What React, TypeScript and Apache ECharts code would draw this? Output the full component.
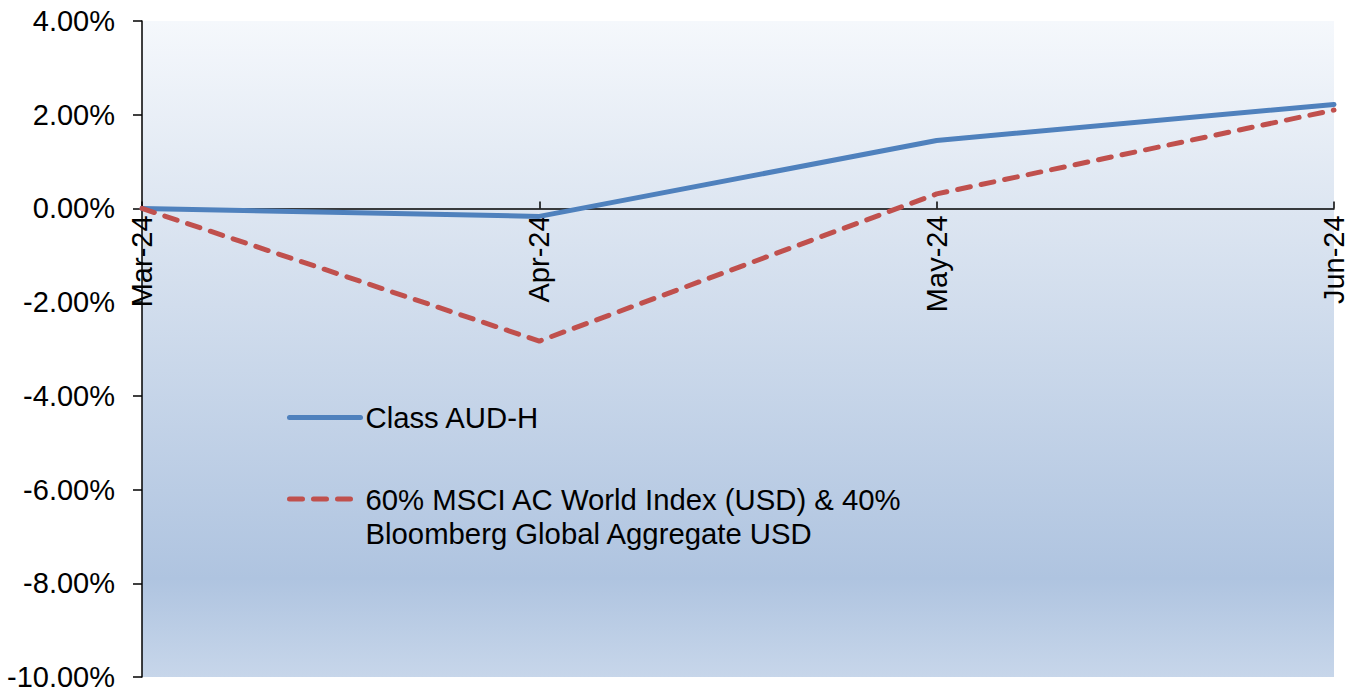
import React, { useEffect, useRef } from "react";
import * as echarts from "echarts";

const categories = ["Mar-24", "Apr-24", "May-24", "Jun-24"];
const seriesNames = [
  "Class AUD-H",
  "60% MSCI AC World Index (USD) & 40% Bloomberg Global Aggregate USD",
];
const classAudH = [0, -0.17, 1.45, 2.22];
const benchmark = [0, -2.83, 0.31, 2.1];
const yTicks = { min: -10, max: 4, interval: 2 };

const FONT = "'Liberation Sans', Arial, sans-serif";
const GRID = { left: 142, right: 27, top: 21, bottom: 16 };
const CHART_H = 693;

export default function App() {
  const ref = useRef<HTMLDivElement>(null);
  useEffect(() => {
    if (!ref.current) return;
    const chart = echarts.init(ref.current, null, { renderer: "svg" });
    const plotH = CHART_H - GRID.top - GRID.bottom;
    const zeroFromBottom = (plotH * (0 - yTicks.min)) / (yTicks.max - yTicks.min);
    chart.setOption({
      animation: false,
      textStyle: { fontFamily: FONT },
      grid: {
        ...GRID,
        outerBoundsMode: "none",
        containLabel: false,
        show: true,
        borderWidth: 0,
        backgroundColor: new echarts.graphic.LinearGradient(0, 0, 0, 1, [
          { offset: 0, color: "#f5f8fc" },
          { offset: 0.3, color: "#dce5f1" },
          { offset: 0.85, color: "#afc4e0" },
          { offset: 1, color: "#c7d6ea" },
        ]),
      },
      legend: [
        {
          orient: "vertical",
          left: 287,
          top: 403,
          padding: 0,
          itemWidth: 71,
          itemHeight: 1,
          data: [{ name: seriesNames[0] }],
          lineStyle: { width: 5, cap: "round" },
          itemStyle: { borderWidth: 0 },
          textStyle: { fontSize: 29.3, color: "#000", fontFamily: FONT },
        },
        {
          orient: "vertical",
          left: 287,
          top: 448,
          padding: 0,
          itemWidth: 71,
          itemHeight: 1,
          data: [{ name: seriesNames[1] }],
          lineStyle: { width: 5, cap: "round", type: [13, 11] },
          itemStyle: { borderWidth: 0 },
          formatter: (n: string) => "\n" + n.replace("& 40% ", "& 40%\n"),
          textStyle: { fontSize: 29.3, color: "#000", fontFamily: FONT, lineHeight: 34 },
        },
      ],
      xAxis: {
        type: "category",
        data: categories,
        boundaryGap: false,
        position: "bottom",
        offset: -zeroFromBottom,
        axisLine: { onZero: false, lineStyle: { color: "#000", width: 1.5 } },
        axisTick: { inside: true, length: 7, lineStyle: { color: "#000", width: 1.5 } },
        axisLabel: {
          rotate: 90,
          margin: 7,
          fontSize: 29,
          color: "#000",
          fontFamily: FONT,
          interval: 0,
        },
        splitLine: { show: false },
      },
      yAxis: {
        type: "value",
        min: yTicks.min,
        max: yTicks.max,
        interval: yTicks.interval,
        axisLine: { show: true, lineStyle: { color: "#000", width: 1.5 } },
        axisTick: { show: true, length: 9, lineStyle: { color: "#000", width: 1.5 } },
        axisLabel: {
          margin: 27,
          fontSize: 29,
          color: "#000",
          fontFamily: FONT,
          formatter: (v: number) => v.toFixed(2) + "%",
        },
        splitLine: { show: false },
      },
      series: [
        {
          name: seriesNames[0],
          type: "line",
          data: classAudH,
          symbol: "none",
          lineStyle: { color: "#4f81bd", width: 5, cap: "round" },
          itemStyle: { color: "#4f81bd" },
        },
        {
          name: seriesNames[1],
          type: "line",
          data: benchmark,
          symbol: "none",
          lineStyle: { color: "#c0504d", width: 5, type: [13, 11], cap: "round" },
          itemStyle: { color: "#c0504d" },
        },
      ],
    });
    return () => chart.dispose();
  }, []);
  return (
    <div
      ref={ref}
      style={{ position: "absolute", left: 0, top: 0, width: 1361, height: CHART_H }}
    />
  );
}
